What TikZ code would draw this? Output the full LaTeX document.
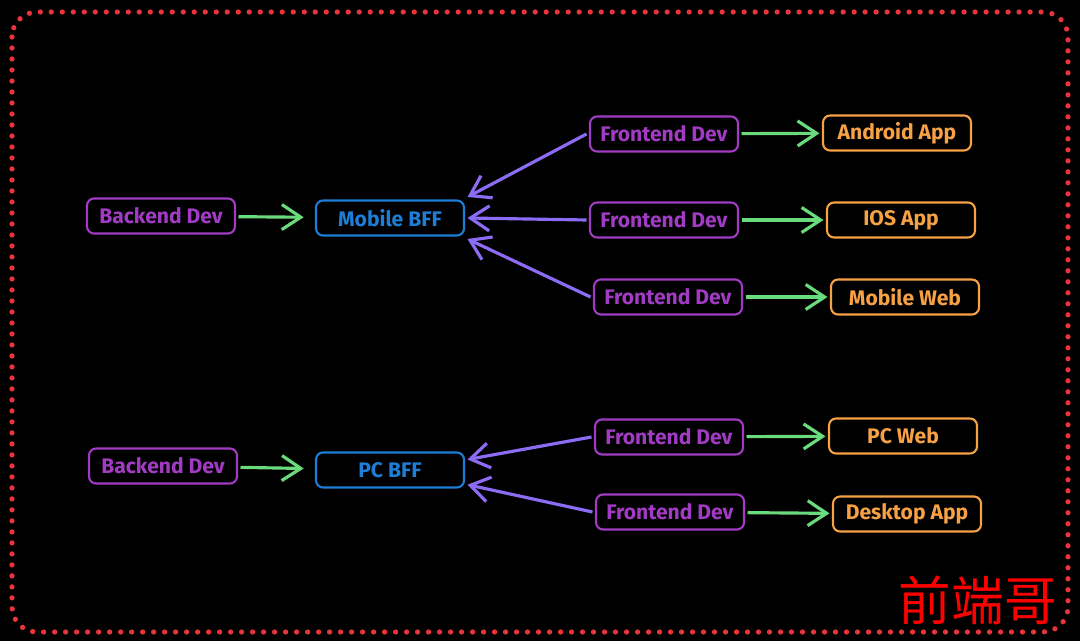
\documentclass[tikz,border=0pt]{standalone}
\usepackage{fontspec}
\setmainfont{Fira Sans}
\newfontfamily\cjk{Noto Sans CJK SC}
\usepackage{tikz}
\usetikzlibrary{arrows.meta,positioning,calc}
\usepackage{xcolor}
\definecolor{grape}{HTML}{A23BC4}
\definecolor{bffblue}{HTML}{1C7ED6}
\definecolor{appor}{HTML}{F7A145}
\definecolor{mint}{HTML}{69DB7C}
\definecolor{lilac}{HTML}{8C6CF5}
\definecolor{border}{HTML}{E8343A}
\tikzset{
  box/.style={draw,rounded corners=4pt,line width=1.2pt,align=center,
    minimum width=2.96cm,minimum height=0.7cm,font=\bfseries\large,outer sep=2pt},
  dev/.style={box,draw=grape,text=grape},
  bff/.style={box,draw=bffblue,text=bffblue},
  app/.style={box,draw=appor,text=appor},
  feed/.style={-{Straight Barb[length=3.8mm,width=5mm]},draw=mint,line width=1.8pt},
  pull/.style={-{Straight Barb[length=3.8mm,width=5mm]},draw=lilac,line width=1.8pt}
}
\begin{document}
\begin{tikzpicture}[x=0.02cm,y=-0.02cm]
  % background and frame
  \fill[black] (0,0) rectangle (1080,641);
  \useasboundingbox (0,0) rectangle (1080,641);
  \draw[border,line width=3pt,line cap=round,dash pattern=on 0pt off 0.22cm,rounded corners=0.5cm]
    (12,12) rectangle (1068,632);

  % mobile group
  \node[dev] (be1) at (161,216) {Backend Dev};
  \node[bff] (mbff) at (390,218) {Mobile BFF};
  \node[dev] (fe1) at (664,134) {Frontend Dev};
  \node[dev] (fe2) at (664,220) {Frontend Dev};
  \node[dev] (fe3) at (668,297) {Frontend Dev};
  \node[app] (android) at (897,133) {Android App};
  \node[app] (ios) at (901,220) {IOS App};
  \node[app] (mweb) at (905,297) {Mobile Web};

  % pc group
  \node[dev] (be2) at (163,466) {Backend Dev};
  \node[bff] (pcbff) at (390,470) {PC BFF};
  \node[dev] (fe4) at (669,437) {Frontend Dev};
  \node[dev] (fe5) at (670,512) {Frontend Dev};
  \node[app] (pcweb) at (903,436) {PC Web};
  \node[app] (desk) at (907,514) {Desktop App};

  \draw[feed,shorten >=5pt] (be1) -- (mbff);
  \draw[feed,shorten >=5pt] (be2) -- (pcbff);
  \draw[feed] (fe1) -- (android);
  \draw[feed] (fe2) -- (ios);
  \draw[feed] (fe3) -- (mweb);
  \draw[feed] (fe4) -- (pcweb);
  \draw[feed] (fe5) -- (desk);

  \draw[pull] (fe1.west) -- (mbff.north east);
  \draw[pull] (fe2.west) -- (mbff.east);
  \draw[pull] (fe3.west) -- (mbff.south east);
  \draw[pull] (fe4.west) -- ($(pcbff.north east)!0.25!(pcbff.south east)$);
  \draw[pull] (fe5.west) -- ($(pcbff.north east)!0.85!(pcbff.south east)$);

  % watermark
  \node[text=red,font=\cjk\fontsize{30}{30}\selectfont] (mark) at (978,600) {前端哥};
\end{tikzpicture}
\end{document}
